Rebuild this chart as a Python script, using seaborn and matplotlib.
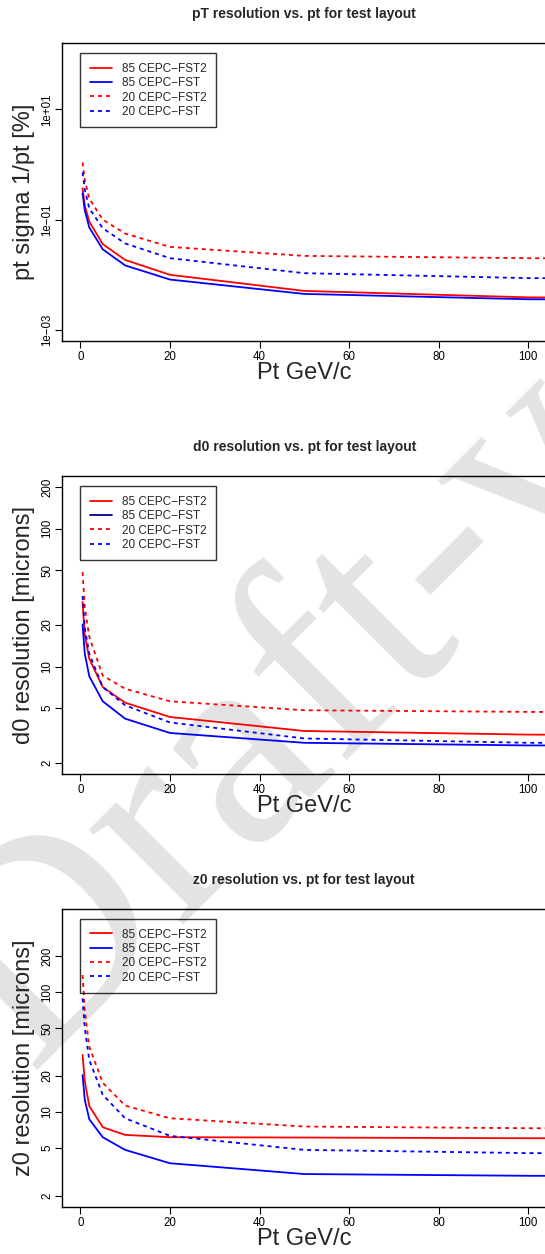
import numpy as np
import pandas as pd
import matplotlib
matplotlib.use("Agg")
import matplotlib.pyplot as plt
from matplotlib.ticker import NullLocator
import seaborn as sns

# transverse momentum points (GeV/c)
pt = [0.5, 1, 2, 5, 10, 20, 50, 100, 200]

labels = ["85 CEPC\u2212FST2", "85 CEPC\u2212FST", "20 CEPC\u2212FST2", "20 CEPC\u2212FST"]

# sigma(1/pt) [%]
ptres_85_fst2 = [0.37, 0.18, 0.092, 0.036, 0.0186, 0.010, 0.0051, 0.0039, 0.0035]
ptres_85_fst = [0.30, 0.147, 0.072, 0.029, 0.0148, 0.0082, 0.0045, 0.0036, 0.0033]
ptres_20_fst2 = [1.09, 0.52, 0.24, 0.10, 0.056, 0.032, 0.022, 0.020, 0.019]
ptres_20_fst = [0.72, 0.35, 0.16, 0.07, 0.037, 0.020, 0.0107, 0.0087, 0.0083]

# d0 resolution [microns]
d0_85_fst2 = [29.4, 17.0, 11.4, 7.1, 5.47, 4.31, 3.41, 3.21, 3.12]
d0_85_fst = [20.2, 12.4, 8.5, 5.6, 4.19, 3.30, 2.80, 2.68, 2.66]
d0_20_fst2 = [48.4, 27.0, 16.4, 8.6, 6.9, 5.6, 4.82, 4.69, 4.6]
d0_20_fst = [32.4, 19.0, 12.4, 7.1, 5.24, 3.93, 3.01, 2.80, 2.78]

# z0 resolution [microns]
z0_85_fst2 = [29.9, 18.0, 11.2, 7.45, 6.43, 6.15, 6.11, 6.03, 6.0]
z0_85_fst = [20.3, 12.6, 8.69, 6.15, 4.82, 3.73, 3.03, 2.93, 2.9]
z0_20_fst2 = [138.6, 70.0, 35.0, 17.5, 11.3, 8.85, 7.55, 7.31, 7.2]
z0_20_fst = [88.5, 50.0, 27.1, 13.9, 8.85, 6.31, 4.82, 4.53, 4.45]

sns.set_style("ticks")
plt.rcParams["font.family"] = ["Liberation Sans", "DejaVu Sans"]

fig = plt.figure(figsize=(5.45, 12.54), dpi=100)
fig.patch.set_facecolor("white")

# big watermark behind the plots
fig.text(0.054, 0.1466, "Draft-version", rotation=45, rotation_mode="anchor",
         ha="left", va="baseline", fontsize=209, color="#e3e3e3",
         family="Liberation Serif", zorder=-1)

panels = [
    dict(bottom=0.72807, title="pT resolution vs. pt for test layout",
         ylabel="pt sigma 1/pt [%]",
         series=[ptres_85_fst2, ptres_85_fst, ptres_20_fst2, ptres_20_fst],
         ylim=(10 ** -3.2, 10 ** 2.2),
         yticks=[1e-3, 1e-1, 1e1], yticklabels=["1e\u221203", "1e\u221201", "1e+01"],
         legcols=["red", "blue", "red", "blue"]),
    dict(bottom=0.38278, title="d0 resolution vs. pt for test layout",
         ylabel="d0 resolution [microns]",
         series=[d0_85_fst2, d0_85_fst, d0_20_fst2, d0_20_fst],
         ylim=(10 ** (np.log10(2) - 0.08), 10 ** (np.log10(200) + 0.08)),
         yticks=[2, 5, 10, 20, 50, 100, 200], yticklabels=["2", "5", "10", "20", "50", "100", "200"],
         legcols=["red", "#00008b", "red", "blue"]),
    dict(bottom=0.03772, title="z0 resolution vs. pt for test layout",
         ylabel="z0 resolution [microns]",
         series=[z0_85_fst2, z0_85_fst, z0_20_fst2, z0_20_fst],
         ylim=(10 ** 0.209, 10 ** 2.695),
         yticks=[2, 5, 10, 20, 50, 100, 200], yticklabels=["2", "5", "10", "20", "50", "100", "200"],
         legcols=["red", "blue", "red", "blue"]),
]

colors = ["red", "blue", "red", "blue"]
styles = ["-", "-", (0, (2.2, 2.2)), (0, (2.2, 2.2))]

for p in panels:
    ax = fig.add_axes([0.1145, p["bottom"], 0.8877, 0.2376])
    ax.set_facecolor("none")
    for vals, c, ls in zip(p["series"], colors, styles):
        sns.lineplot(x=pt, y=vals, ax=ax, color=c, linestyle=ls, linewidth=1.3,
                     sort=False, estimator=None)
    ax.set_yscale("log")
    ax.set_xlim(-4, 104)
    ax.set_ylim(*p["ylim"])
    ax.set_xticks([0, 20, 40, 60, 80, 100])
    ax.set_yticks(p["yticks"], p["yticklabels"], rotation=90, va="center")
    ax.yaxis.set_minor_locator(NullLocator())
    ax.tick_params(direction="out", length=5, width=0.8, labelsize=8.3, colors="black")
    ax.tick_params(axis="x", pad=2.5)
    ax.tick_params(axis="y", pad=1.5)
    for s in ax.spines.values():
        s.set_visible(True)
        s.set_color("black")
        s.set_linewidth(1.0)

    ax.set_xlabel("Pt GeV/c", fontsize=17)
    ax.xaxis.label.set_verticalalignment("center")
    ax.xaxis.set_label_coords(0.5, -0.107)
    ax.set_ylabel(p["ylabel"], fontsize=17)
    ax.yaxis.label.set_verticalalignment("center")
    ax.yaxis.set_label_coords(-0.0786, 0.5)
    ax.text(0.5, 1.0963, p["title"], transform=ax.transAxes, ha="center", va="center",
            fontsize=10, fontweight="bold")

    handles = ax.get_lines()[:4]
    leg = ax.legend(handles, labels, loc="upper left", bbox_to_anchor=(0.037, 0.9654),
                    bbox_transform=ax.transAxes, borderaxespad=0, frameon=True,
                    fancybox=False, edgecolor="black", facecolor="none", framealpha=None,
                    fontsize=8.5, handlelength=1.9, handletextpad=0.85,
                    labelspacing=0.2, borderpad=0.8)
    leg.get_frame().set_linewidth(1.0)
    for line, c in zip(leg.get_lines(), p["legcols"]):
        line.set_color(c)

fig.savefig("out.png", dpi=100)
